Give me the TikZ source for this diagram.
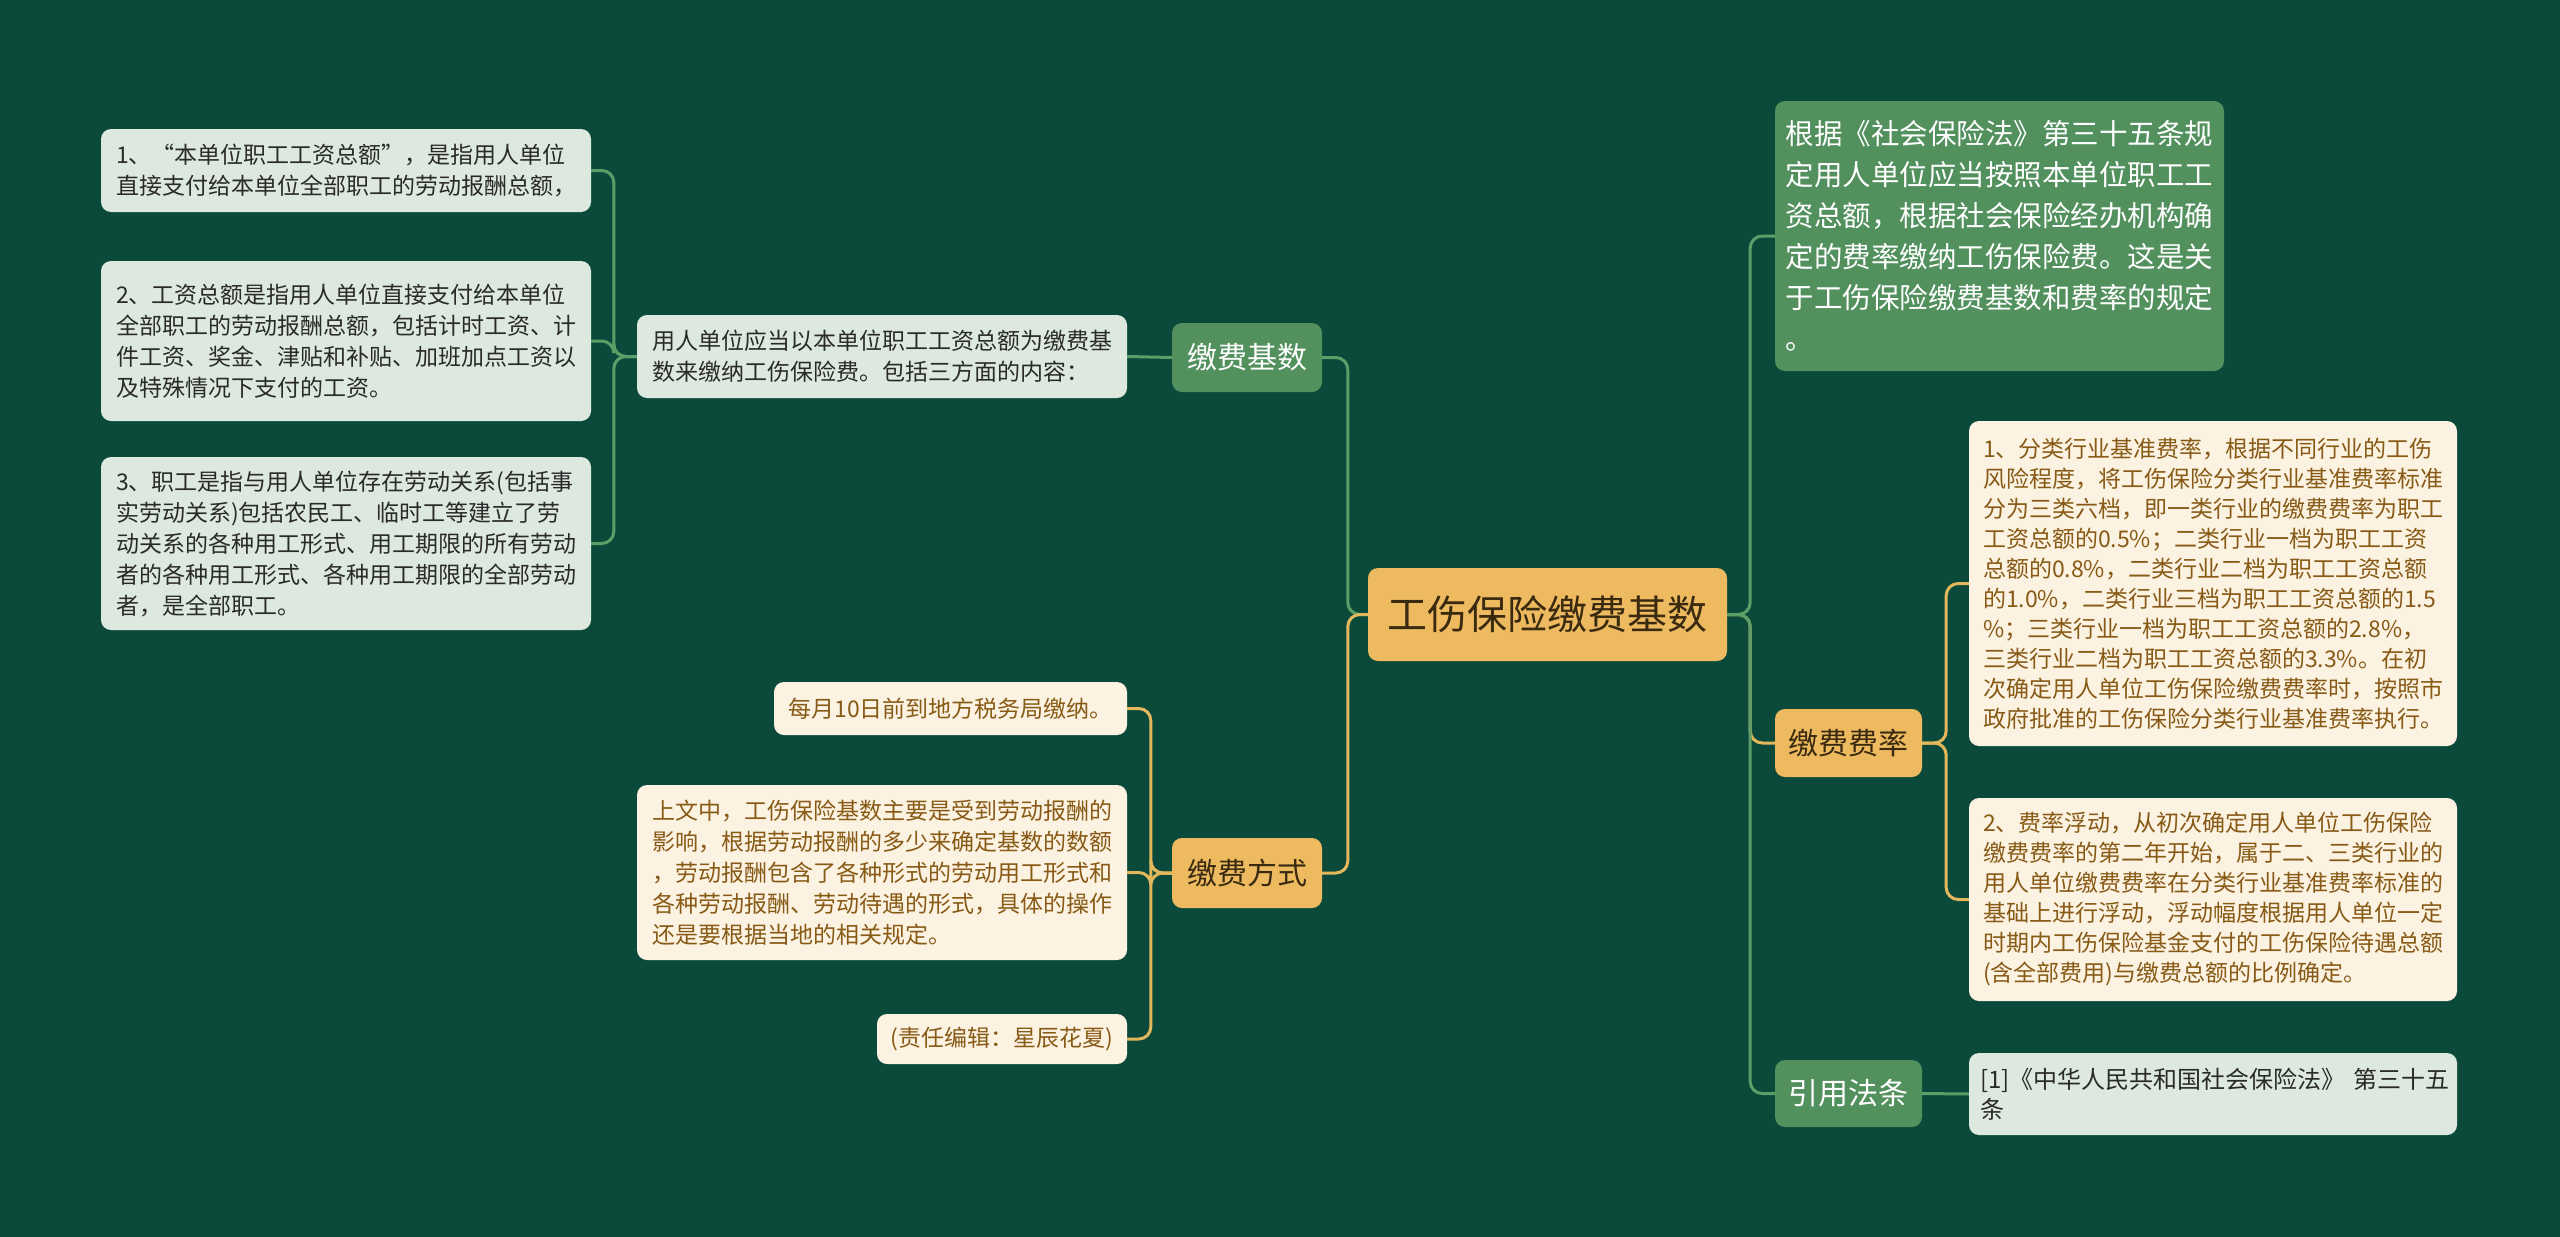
\documentclass[tikz,border=0pt]{standalone}
\usepackage{fontspec}
\setmainfont{Noto Sans CJK SC}
\definecolor{bg}{HTML}{0B4A3A}
\definecolor{gnode}{HTML}{52905E}
\definecolor{lgbox}{HTML}{DDE9DF}
\definecolor{onode}{HTML}{EDBA5F}
\definecolor{cream}{HTML}{FCF2E2}
\definecolor{browntxt}{HTML}{875A15}
\definecolor{darktxt}{HTML}{2A2A2A}
\definecolor{otxt}{HTML}{3A2A10}
\definecolor{gline}{HTML}{5C9E68}
\definecolor{oline}{HTML}{E3B75C}
\begin{document}
\begin{tikzpicture}[x=1pt,y=-1pt,
  base/.style={rounded corners=10pt, inner sep=0pt, align=left, anchor=center},
  smalltxt/.style={font=\fontsize{23}{31}\selectfont},
  ratetxt/.style={font=\fontsize{23}{30}\selectfont},
  lgb/.style={base, fill=lgbox, text=darktxt, smalltxt},
  crb/.style={base, fill=cream, text=browntxt, smalltxt},
  gbr/.style={base, align=center, fill=gnode, text=white, font=\fontsize{30}{36}\selectfont},
  obr/.style={base, align=center, fill=onode, text=otxt, font=\fontsize{30}{36}\selectfont},
  gl/.style={draw=gline, line width=3pt, rounded corners=12pt},
  ol/.style={draw=oline, line width=3pt, rounded corners=12pt}]
\fill[bg] (0,0) rectangle (2560,1237);
\useasboundingbox (0,0) rectangle (2560,1237);

% center
\node[base, align=center, fill=onode, text=otxt, font=\fontsize{40}{46}\selectfont,
  minimum width=359pt, minimum height=93pt] (c) at (1547.5,614.5) {工伤保险缴费基数};

% left upper branch
\node[gbr, minimum width=150pt, minimum height=69pt] (jfjs) at (1247,357.5) {缴费基数};
\node[lgb, minimum width=490pt, minimum height=83pt] (yr) at (882,356.5)
  {用人单位应当以本单位职工工资总额为缴费基\\数来缴纳工伤保险费。包括三方面的内容：};
\node[lgb, minimum width=490pt, minimum height=83pt] (b1) at (346,170.5)
  {1、“本单位职工工资总额”，是指用人单位\\直接支付给本单位全部职工的劳动报酬总额，};
\node[lgb, minimum width=490pt, minimum height=160pt] (b2) at (346,341)
  {2、工资总额是指用人单位直接支付给本单位\\全部职工的劳动报酬总额，包括计时工资、计\\件工资、奖金、津贴和补贴、加班加点工资以\\及特殊情况下支付的工资。};
\node[lgb, minimum width=490pt, minimum height=173pt] (b3) at (346,543.5)
  {3、职工是指与用人单位存在劳动关系(包括事\\实劳动关系)包括农民工、临时工等建立了劳\\动关系的各种用工形式、用工期限的所有劳动\\者的各种用工形式、各种用工期限的全部劳动\\者，是全部职工。};

% left lower branch
\node[obr, minimum width=150pt, minimum height=70pt] (fs) at (1247,873) {缴费方式};
\node[crb, minimum width=353pt, minimum height=53pt] (my) at (950.5,708.5) {每月10日前到地方税务局缴纳。};
\node[crb, minimum width=490pt, minimum height=175pt] (sw) at (882,872.5)
  {上文中，工伤保险基数主要是受到劳动报酬的\\影响，根据劳动报酬的多少来确定基数的数额\\，劳动报酬包含了各种形式的劳动用工形式和\\各种劳动报酬、劳动待遇的形式，具体的操作\\还是要根据当地的相关规定。};
\node[crb, minimum width=250pt, minimum height=50pt] (zr) at (1002,1039) {(责任编辑：星辰花夏)};

% right branches
\node[base, fill=gnode, text=white, font=\fontsize{28.5}{41}\selectfont,
  minimum width=449pt, minimum height=270pt] (rg) at (1999.5,236)
  {根据《社会保险法》第三十五条规\\定用人单位应当按照本单位职工工\\资总额，根据社会保险经办机构确\\定的费率缴纳工伤保险费。这是关\\于工伤保险缴费基数和费率的规定\\。};
\node[obr, minimum width=147pt, minimum height=68pt] (fl) at (1848.5,743) {缴费费率};
\node[crb, ratetxt, minimum width=488pt, minimum height=325pt] (r1) at (2213,583.5)
  {1、分类行业基准费率，根据不同行业的工伤\\风险程度，将工伤保险分类行业基准费率标准\\分为三类六档，即一类行业的缴费费率为职工\\工资总额的0.5\%；二类行业一档为职工工资\\总额的0.8\%，二类行业二档为职工工资总额\\的1.0\%，二类行业三档为职工工资总额的1.5\\\%；三类行业一档为职工工资总额的2.8\%，\\三类行业二档为职工工资总额的3.3\%。在初\\次确定用人单位工伤保险缴费费率时，按照市\\政府批准的工伤保险分类行业基准费率执行。};
\node[crb, ratetxt, minimum width=488pt, minimum height=203pt] (r2) at (2213,899.5)
  {2、费率浮动，从初次确定用人单位工伤保险\\缴费费率的第二年开始，属于二、三类行业的\\用人单位缴费费率在分类行业基准费率标准的\\基础上进行浮动，浮动幅度根据用人单位一定\\时期内工伤保险基金支付的工伤保险待遇总额\\(含全部费用)与缴费总额的比例确定。};
\node[gbr, minimum width=147pt, minimum height=67pt] (yf) at (1848.5,1093.5) {引用法条};
\node[base, fill=lgbox, text=darktxt, font=\fontsize{24}{30}\selectfont,
  inner xsep=11pt, text width=466pt, minimum height=82pt] (ref) at (2213,1094)
  {\mbox{[1]《中华人民共和国社会保险法》\ 第三十五}\\条};

% connectors
\draw[gl] (c.west) -- ++(-20,0) |- (jfjs.east);
\draw[ol] (c.west) -- ++(-20,0) |- (fs.east);
\draw[gl] (jfjs.west) -- (yr.east);
\draw[gl] (yr.west) -- ++(-23,0) |- (b1.east);
\draw[gl] (yr.west) -- ++(-23,0) |- (b2.east);
\draw[gl] (yr.west) -- ++(-23,0) |- (b3.east);
\draw[ol] (fs.west) -- ++(-21,0) |- (my.east);
\draw[ol] (fs.west) -- ++(-21,0) |- (sw.east);
\draw[ol] (fs.west) -- ++(-21,0) |- (zr.east);
\draw[gl] (c.east) -- ++(23,0) |- (rg.west);
\draw[ol] (c.east) -- ++(23,0) |- (fl.west);
\draw[gl] (c.east) -- ++(23,0) |- (yf.west);
\draw[ol] (fl.east) -- ++(24,0) |- (r1.west);
\draw[ol] (fl.east) -- ++(24,0) |- (r2.west);
\draw[gl] (yf.east) -- (ref.west);
\end{tikzpicture}
\end{document}
